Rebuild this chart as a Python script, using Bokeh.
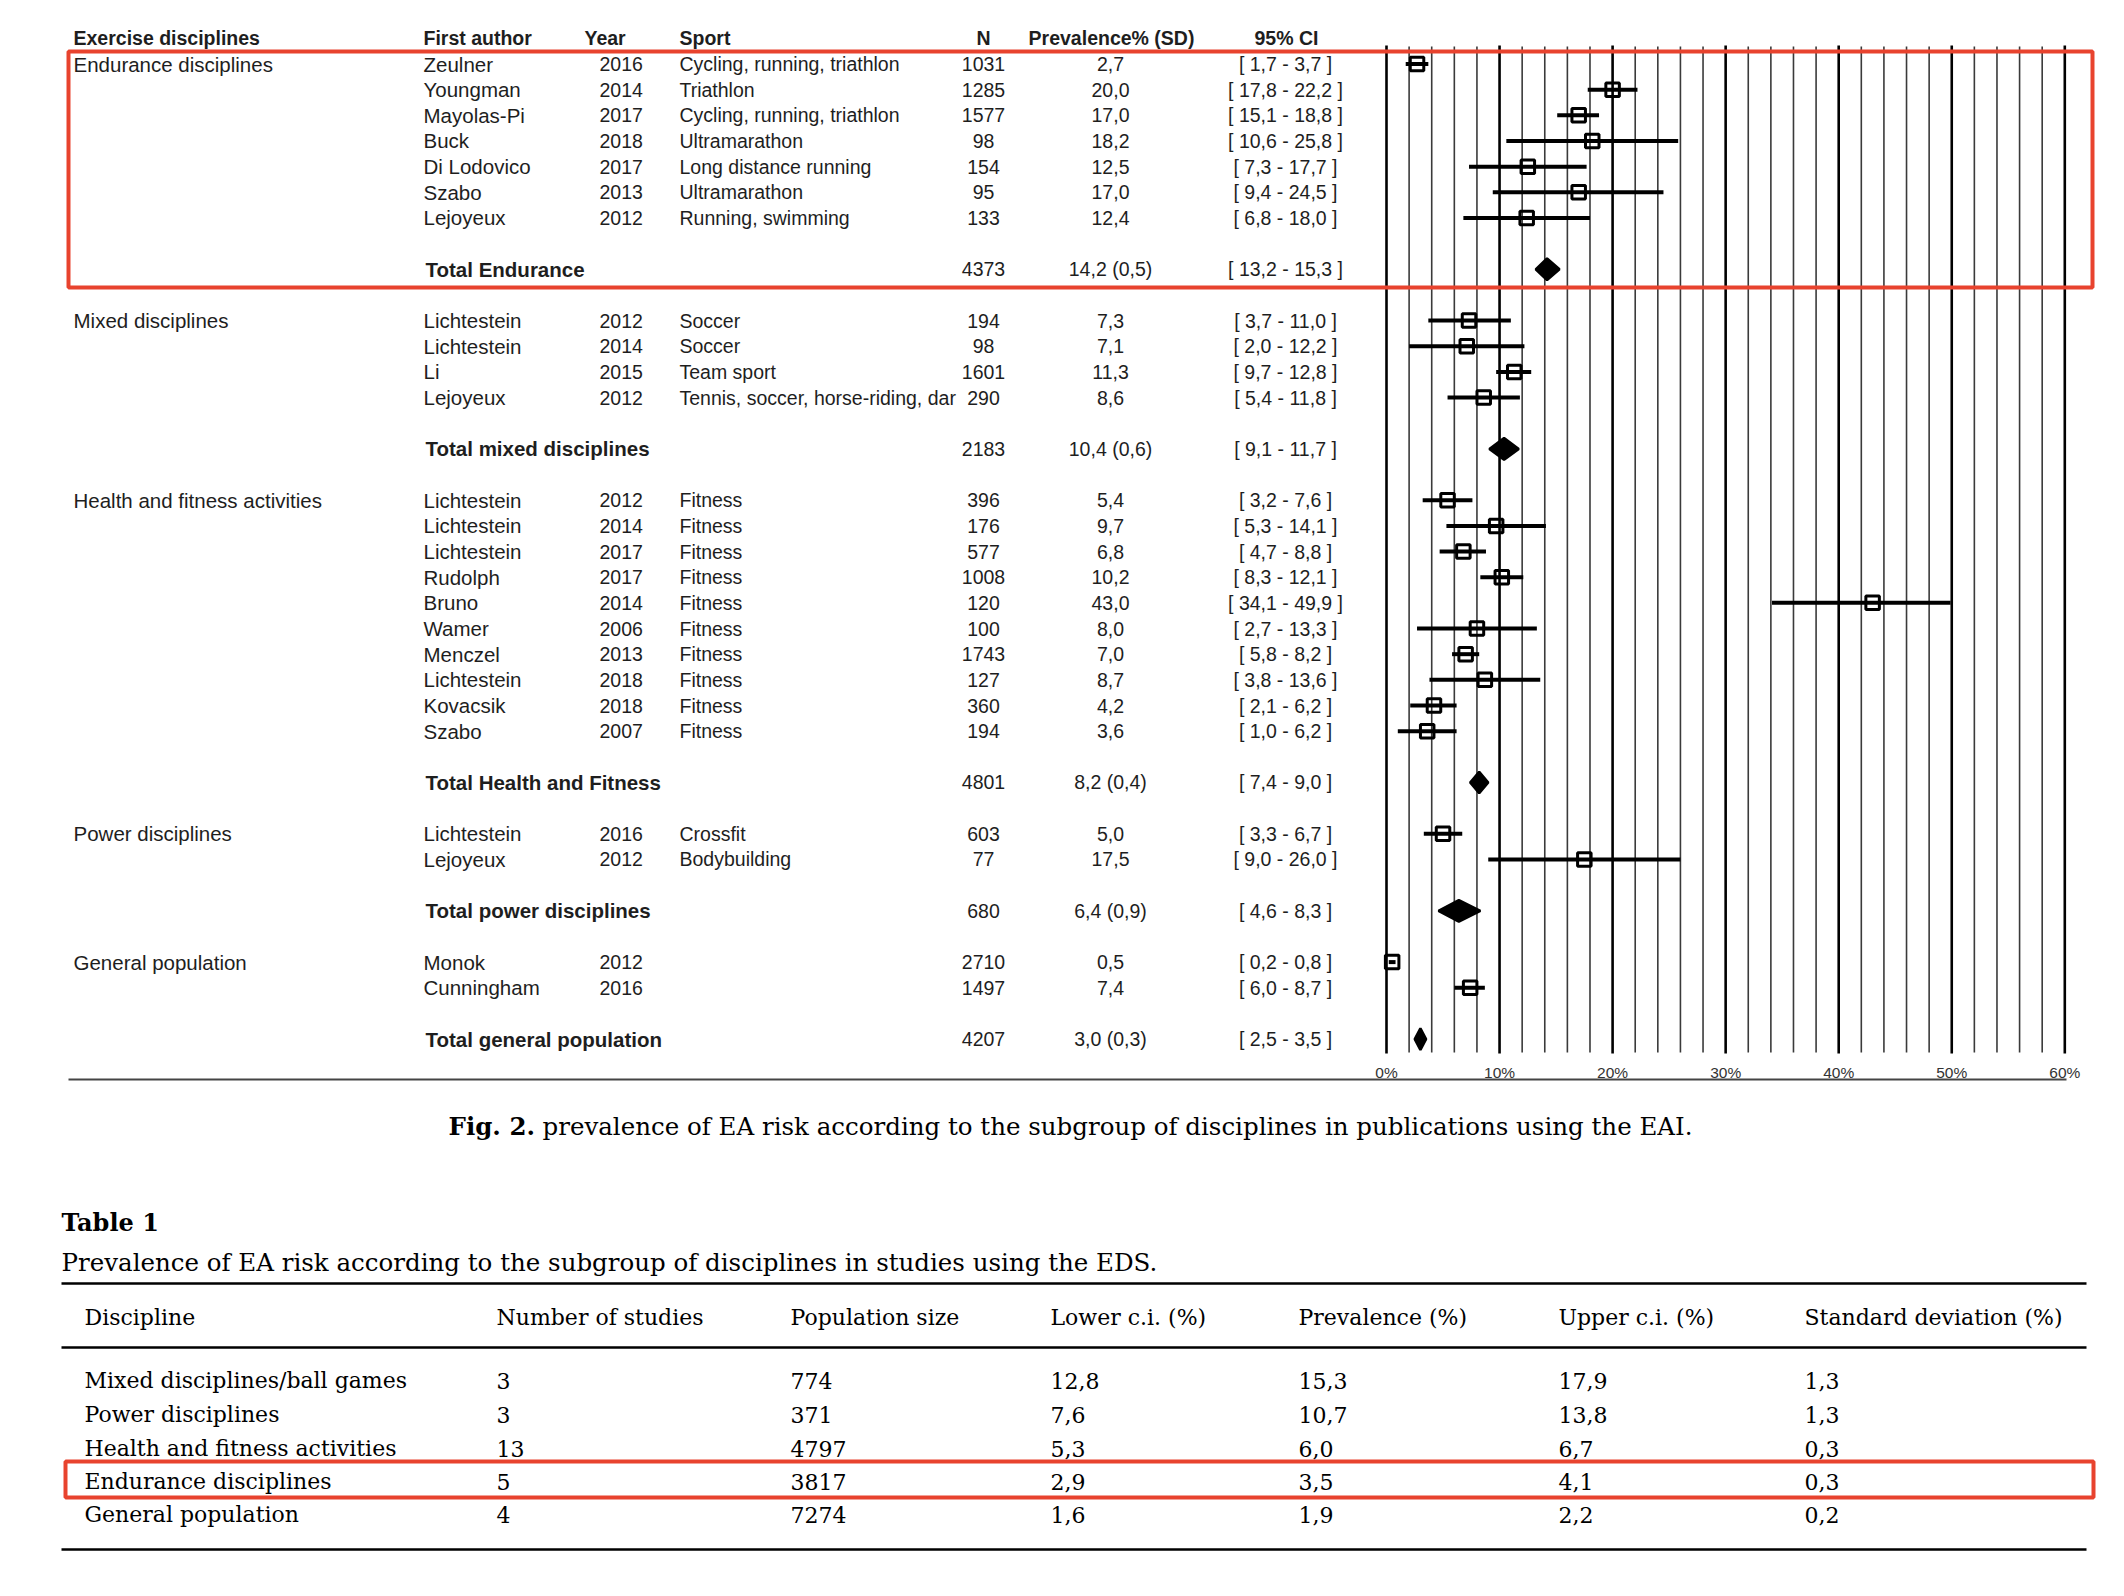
from bokeh.plotting import figure
from bokeh.models import Range1d, ColumnDataSource
from bokeh.embed import file_html
from bokeh.resources import INLINE
from bokeh.core.properties import value

# ---------------- forest plot data ----------------
group_labels = ["Endurance disciplines", "Mixed disciplines", "Health and fitness activities",
                "Power disciplines", "General population"]
group_rows = [0, 10, 17, 30, 35]

study_rows = [0, 1, 2, 3, 4, 5, 6,
              10, 11, 12, 13,
              17, 18, 19, 20, 21, 22, 23, 24, 25, 26,
              30, 31,
              35, 36]
authors = ["Zeulner", "Youngman", "Mayolas-Pi", "Buck", "Di Lodovico", "Szabo", "Lejoyeux",
           "Lichtestein", "Lichtestein", "Li", "Lejoyeux",
           "Lichtestein", "Lichtestein", "Lichtestein", "Rudolph", "Bruno", "Wamer", "Menczel",
           "Lichtestein", "Kovacsik", "Szabo",
           "Lichtestein", "Lejoyeux",
           "Monok", "Cunningham"]
years = ["2016", "2014", "2017", "2018", "2017", "2013", "2012",
         "2012", "2014", "2015", "2012",
         "2012", "2014", "2017", "2017", "2014", "2006", "2013", "2018", "2018", "2007",
         "2016", "2012",
         "2012", "2016"]
sports = ["Cycling, running, triathlon", "Triathlon", "Cycling, running, triathlon", "Ultramarathon",
          "Long distance running", "Ultramarathon", "Running, swimming",
          "Soccer", "Soccer", "Team sport", "Tennis, soccer, horse-riding, dar",
          "Fitness", "Fitness", "Fitness", "Fitness", "Fitness", "Fitness", "Fitness", "Fitness",
          "Fitness", "Fitness",
          "Crossfit", "Bodybuilding",
          "", ""]
n_values = [1031, 1285, 1577, 98, 154, 95, 133,
            194, 98, 1601, 290,
            396, 176, 577, 1008, 120, 100, 1743, 127, 360, 194,
            603, 77,
            2710, 1497]
prevalence = [2.7, 20.0, 17.0, 18.2, 12.5, 17.0, 12.4,
              7.3, 7.1, 11.3, 8.6,
              5.4, 9.7, 6.8, 10.2, 43.0, 8.0, 7.0, 8.7, 4.2, 3.6,
              5.0, 17.5,
              0.5, 7.4]
ci_low = [1.7, 17.8, 15.1, 10.6, 7.3, 9.4, 6.8,
          3.7, 2.0, 9.7, 5.4,
          3.2, 5.3, 4.7, 8.3, 34.1, 2.7, 5.8, 3.8, 2.1, 1.0,
          3.3, 9.0,
          0.2, 6.0]
ci_high = [3.7, 22.2, 18.8, 25.8, 17.7, 24.5, 18.0,
           11.0, 12.2, 12.8, 11.8,
           7.6, 14.1, 8.8, 12.1, 49.9, 13.3, 8.2, 13.6, 6.2, 6.2,
           6.7, 26.0,
           0.8, 8.7]

total_rows = [8, 15, 28, 33, 38]
total_labels = ["Total Endurance", "Total mixed disciplines", "Total Health and Fitness",
                "Total power disciplines", "Total general population"]
total_n = [4373, 2183, 4801, 680, 4207]
total_prev = [14.2, 10.4, 8.2, 6.4, 3.0]
total_sd = [0.5, 0.6, 0.4, 0.9, 0.3]
total_low = [13.2, 9.1, 7.4, 4.6, 2.5]
total_high = [15.3, 11.7, 9.0, 8.3, 3.5]

header_labels = ["Exercise disciplines", "First author", "Year", "Sport", "N", "Prevalence% (SD)", "95% CI"]
axis_ticks = [0, 10, 20, 30, 40, 50, 60]

# ---------------- Table 1 data ----------------
tab_headers = ["Discipline", "Number of studies", "Population size", "Lower c.i. (%)",
               "Prevalence (%)", "Upper c.i. (%)", "Standard deviation (%)"]
tab_discipline = ["Mixed disciplines/ball games", "Power disciplines", "Health and fitness activities",
                  "Endurance disciplines", "General population"]
tab_n_studies = [3, 3, 13, 5, 4]
tab_population = [774, 371, 4797, 3817, 7274]
tab_lower = [12.8, 7.6, 5.3, 2.9, 1.6]
tab_prev = [15.3, 10.7, 6.0, 3.5, 1.9]
tab_upper = [17.9, 13.8, 6.7, 4.1, 2.2]
tab_sd = [1.3, 1.3, 0.3, 0.3, 0.2]

caption_bold = "Fig. 2."
caption_text = "prevalence of EA risk according to the subgroup of disciplines in publications using the EAI."
table_title = "Table 1"
table_subtitle = "Prevalence of EA risk according to the subgroup of disciplines in studies using the EDS."


def dec(v):
    return f"{v:.1f}".replace(".", ",")


# ---------------- layout ----------------
W, H = 2110, 1588
LEFT, TOP = 0, 0
X0, SX = 1386.0, 11.305   # page x of 0 %, px per percent
Y0, SY = 63.5, 25.66      # page y of first study row, px per row
RED = "#E8432E"
INK = "#1e1e1e"

p = figure(width=W, height=H, output_backend="svg", toolbar_location=None,
           x_range=Range1d(LEFT, LEFT + W), y_range=Range1d(TOP + H, TOP),
           x_axis_type=None, y_axis_type=None, min_border=0)
p.outline_line_color = None
p.background_fill_color = "white"
p.border_fill_color = "white"
p.extra_x_ranges = {"pct": Range1d((LEFT - X0) / SX, (LEFT + W - X0) / SX)}
p.extra_y_ranges = {"row": Range1d((TOP + H - Y0) / SY, (TOP - Y0) / SY)}


def txt(x, y, texts, align="left", size="19.5px", style="normal", color=INK,
        font="Liberation Sans", xr="default", yr="default"):
    n = len(texts)
    xs = x if isinstance(x, list) else [x] * n
    ys = y if isinstance(y, list) else [y] * n
    src = ColumnDataSource(dict(x=xs, y=ys, t=texts))
    p.text(x="x", y="y", text="t", source=src, text_align=align, text_baseline="middle",
           text_font=value(font), text_font_size=size, text_font_style=style,
           text_color=color, x_range_name=xr, y_range_name=yr)


# gridlines of the forest plot
grid_minor = [v for v in range(0, 61, 2) if v % 10]
grid_major = axis_ticks
p.segment(x0=grid_minor, x1=grid_minor, y0=-0.68, y1=38.52, line_color="#3a3a3a",
          line_width=1.6, x_range_name="pct", y_range_name="row")
p.segment(x0=grid_major, x1=grid_major, y0=-0.72, y1=38.56, line_color="#000000",
          line_width=2.6, x_range_name="pct", y_range_name="row")

# study CIs and boxes
p.segment(x0=ci_low, x1=ci_high, y0=study_rows, y1=study_rows, line_color="black",
          line_width=4, x_range_name="pct", y_range_name="row")
p.scatter(x=prevalence, y=study_rows, marker="square", size=13.5, fill_color=None,
          line_color="black", line_width=3, x_range_name="pct", y_range_name="row")

# pooled diamonds
dh = 0.42
dxs = [[lo, pv, hi, pv] for lo, pv, hi in zip(total_low, total_prev, total_high)]
dys = [[r, r - dh, r, r + dh] for r in total_rows]
p.patches(xs=dxs, ys=dys, fill_color="black", line_color="black", line_width=2.5,
          x_range_name="pct", y_range_name="row")

# axis labels & rule
txt(axis_ticks, 1072, [f"{v}%" for v in axis_ticks], align="center", size="15.5px",
    color="#333333", xr="pct")
p.segment(x0=[68], x1=[2066], y0=[1079], y1=[1079], line_color="#444444", line_width=2)

# header row
hx = [73, 423, 584, 679, 983, 1111, 1286]
ha = ["left", "left", "left", "left", "center", "center", "center"]
for x, a, t in zip(hx, ha, header_labels):
    txt([x], [-1.02], [t], align=a, style="bold", yr="row")

# group labels
txt(73, group_rows, group_labels, size="20.5px", yr="row")
# studies
txt(423, study_rows, authors, size="20.5px", yr="row")
txt(599, study_rows, years, yr="row")
txt(679, study_rows, sports, yr="row")
txt(983, study_rows, [str(v) for v in n_values], align="center", yr="row")
txt(1110, study_rows, [dec(v) for v in prevalence], align="center", yr="row")
txt(1285, study_rows, [f"[ {dec(a)} - {dec(b)} ]" for a, b in zip(ci_low, ci_high)],
    align="center", yr="row")
# totals
txt(425, total_rows, total_labels, size="20.5px", style="bold", yr="row")
txt(983, total_rows, [str(v) for v in total_n], align="center", yr="row")
txt(1110, total_rows, [f"{dec(a)} ({dec(b)})" for a, b in zip(total_prev, total_sd)],
    align="center", yr="row")
txt(1285, total_rows, [f"[ {dec(a)} - {dec(b)} ]" for a, b in zip(total_low, total_high)],
    align="center", yr="row")

# red highlight box (endurance)
p.quad(left=[68], right=[2092], top=[51], bottom=[287], fill_color=None,
       line_color=RED, line_width=4)

# ---------------- caption and Table 1 ----------------
SERIF = "DejaVu Serif"
txt([448], [1126], [caption_bold], size="24.5px", style="bold", color="black", font=SERIF)
txt([542], [1126], [caption_text], size="24.5px", color="black", font=SERIF)
txt([61], [1222], [table_title], size="24px", style="bold", color="black", font=SERIF)
txt([61], [1262], [table_subtitle], size="24.5px", color="black", font=SERIF)

p.segment(x0=[61, 61, 61], x1=[2086, 2086, 2086], y0=[1283, 1347, 1549],
          y1=[1283, 1347, 1549], line_color="black", line_width=2.5)

col_x = [84, 496, 790, 1050, 1298, 1558, 1804]
for x, t in zip(col_x, tab_headers):
    txt([x], [1317], [t], size="22px", color="black", font=SERIF)

row_y = [1380, 1414, 1448, 1481, 1514]
columns = [tab_discipline,
           [str(v) for v in tab_n_studies],
           [str(v) for v in tab_population],
           [dec(v) for v in tab_lower],
           [dec(v) for v in tab_prev],
           [dec(v) for v in tab_upper],
           [dec(v) for v in tab_sd]]
for x, col in zip(col_x, columns):
    txt(x, row_y, col, size="22px", color="black", font=SERIF)

p.quad(left=[65], right=[2093], top=[1461], bottom=[1497], fill_color=None,
       line_color=RED, line_width=4)

open("out.html", "w").write(file_html(p, INLINE))
